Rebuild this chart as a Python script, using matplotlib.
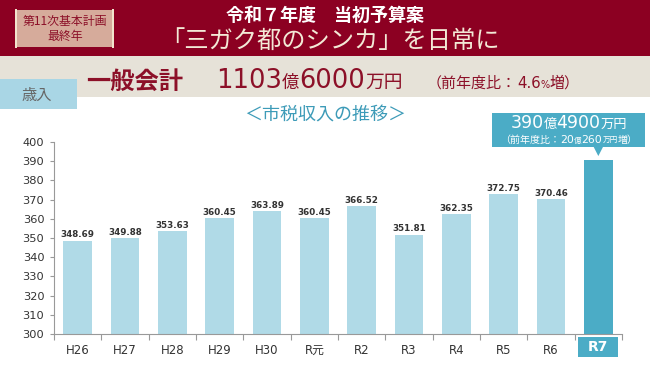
import numpy as np
import matplotlib.pyplot as plt
from matplotlib.patches import Rectangle, Polygon

W, H = 650, 365
CJK = ["Noto Sans CJK JP", "DejaVu Sans"]
NUM = ["DejaVu Sans", "Noto Sans CJK JP"]

years = ["H26", "H27", "H28", "H29", "H30", "R元", "R2", "R3", "R4", "R5", "R6", "R7"]
revenue = [348.69, 349.88, 353.63, 360.45, 363.89, 360.45,
           366.52, 351.81, 362.35, 372.75, 370.46, 390.49]
yticks = list(range(300, 401, 10))

red = "#8C0022"
beige = "#E6E2D8"
darkred = "#8C1028"
light_bar = "#B0DAE7"
teal = "#4BACC6"

fig = plt.figure(figsize=(6.5, 3.65), dpi=100)
renderer = fig.canvas.get_renderer()


def fx(x):
    return x / W


def fy(y):
    return 1 - y / H


def box(x0, y0, x1, y1, color, **kw):
    fig.patches.append(Rectangle((fx(x0), fy(y1)), (x1 - x0) / W, (y1 - y0) / H,
                                 transform=fig.transFigure, facecolor=color,
                                 edgecolor="none", **kw))


def text_runs(x, y, runs, color, center=False, family=NUM):
    # place pieces of text with different sizes side by side on one baseline
    items = []
    for s, size, weight in runs:
        items.append(fig.text(fx(x), fy(y), s, fontsize=size, fontweight=weight,
                              color=color, va="baseline", family=family))
    widths = [t.get_window_extent(renderer).width for t in items]
    if center:
        x -= sum(widths) / 2
    for t, w in zip(items, widths):
        t.set_position((fx(x), fy(y)))
        x += w


# header bands
box(0, 0, W, 56, red)
box(0, 56, W, 97, beige)
box(0, 79, 77, 109, "#A9D6E5")
fig.text(fx(37), fy(95), "歳入", fontsize=11, color="#666666", family=CJK,
         ha="center", va="center")

# badge
box(15, 10, 114, 47, "#D6AB9B")
box(15, 9, 17, 48, "#F2E4CC")
box(112, 9, 114, 48, "#F2E4CC")
fig.text(fx(65), fy(22), "第11次基本計画", fontsize=8.6, color=darkred, family=CJK,
         ha="center", va="center")
fig.text(fx(65), fy(36), "最終年", fontsize=8.6, color=darkred, family=CJK,
         ha="center", va="center")

fig.text(fx(325), fy(15), "令和７年度　当初予算案", fontsize=13, fontweight="bold",
         color="#FFFFFF", family=CJK, ha="center", va="center")
fig.text(fx(330), fy(41), "「三ガク都のシンカ」を日常に", fontsize=17.5,
         color="#F3E9D6", family=CJK, ha="center", va="center")

text_runs(86, 89, [("一般会計", 17.5, "bold")], darkred, family=CJK)
text_runs(216, 88, [("1103", 18.5, "normal"), ("億", 12.5, "normal"),
                    ("6000", 18.5, "normal"), ("万円", 13.5, "normal")], darkred)
text_runs(427, 88, [("（前年度比：", 10.8, "normal"), ("4.6", 10.8, "normal"),
                    ("%", 7, "normal"), ("増）", 10.8, "normal")], darkred)

fig.text(fx(325), fy(116), "＜市税収入の推移＞", fontsize=13, color="#3D9BB8",
         family=CJK, ha="center", va="center")

# chart
ax = fig.add_axes([fx(54), fy(334), (622 - 54) / W, (334 - 142) / H])
x = np.arange(len(years))
colors = [light_bar] * (len(years) - 1) + [teal]
ax.bar(x, [v - 300 for v in revenue], bottom=300, width=0.6, color=colors)

for i, v in enumerate(revenue[:-1]):
    ax.text(i, v + 0.6, f"{v:.2f}", ha="center", va="bottom", fontsize=6.3,
            fontweight="bold", color="#333333", family=NUM)

ax.set_xlim(-0.5, len(years) - 0.5)
ax.set_ylim(300, 400)
ax.set_yticks(yticks)
ax.set_yticklabels([str(t) for t in yticks], fontsize=8.2, color="#333333", family=NUM)
ax.set_xticks(x[:-1])
ax.set_xticklabels(years[:-1], fontsize=8.5, color="#333333", family=NUM)
ax.set_xticks(np.arange(len(years) + 1) - 0.5, minor=True)
ax.tick_params(axis="x", which="major", length=0, pad=7)
ax.tick_params(axis="x", which="minor", length=4, color="#999999", width=0.8)
ax.tick_params(axis="y", length=3, color="#999999", width=0.8, pad=4)
for name in ("top", "right"):
    ax.spines[name].set_visible(False)
for name in ("left", "bottom"):
    ax.spines[name].set_color("#999999")
    ax.spines[name].set_linewidth(0.8)

ax.text(-0.5, 1.055, "億円", transform=ax.get_yaxis_transform(), fontsize=7.5,
        color="#333333", family=CJK, ha="right", va="bottom")

# highlighted last category label
last = len(years) - 1
tr = ax.get_xaxis_transform()
ax.add_patch(Rectangle((last - 0.42, -0.12), 0.84, 0.105, transform=tr,
                       facecolor=teal, edgecolor="none", clip_on=False))
ax.text(last, -0.068, years[-1], transform=tr, ha="center", va="center",
        fontsize=10, fontweight="bold", color="white", family=NUM)

# callout above the last bar
top = revenue[-1]
b0, b1 = top + 6.8, top + 24.6
ax.add_patch(Rectangle((8.76, b0), 3.23, b1 - b0, facecolor=teal, edgecolor="none",
                       clip_on=False))
ax.add_patch(Polygon([(last - 0.1, b0 + 0.2), (last + 0.1, b0 + 0.2), (last, top + 2.2)],
                     facecolor=teal, edgecolor="none", clip_on=False))

fig.canvas.draw()
cx = ax.transData.transform((10.375, 0))[0]
text_runs(cx, 128, [("390", 12.5, "normal"), ("億", 9.5, "normal"),
                    ("4900", 12.5, "normal"), ("万円", 9.5, "normal")], "white", center=True)
text_runs(cx, 143, [("（前年度比：", 7.2, "normal"), ("20", 7.8, "normal"),
                    ("億", 5.5, "normal"), ("260", 7.8, "normal"),
                    ("万円", 5.5, "normal"), ("増）", 7.2, "normal")], "white", center=True)

fig.savefig("out.png", dpi=100)
